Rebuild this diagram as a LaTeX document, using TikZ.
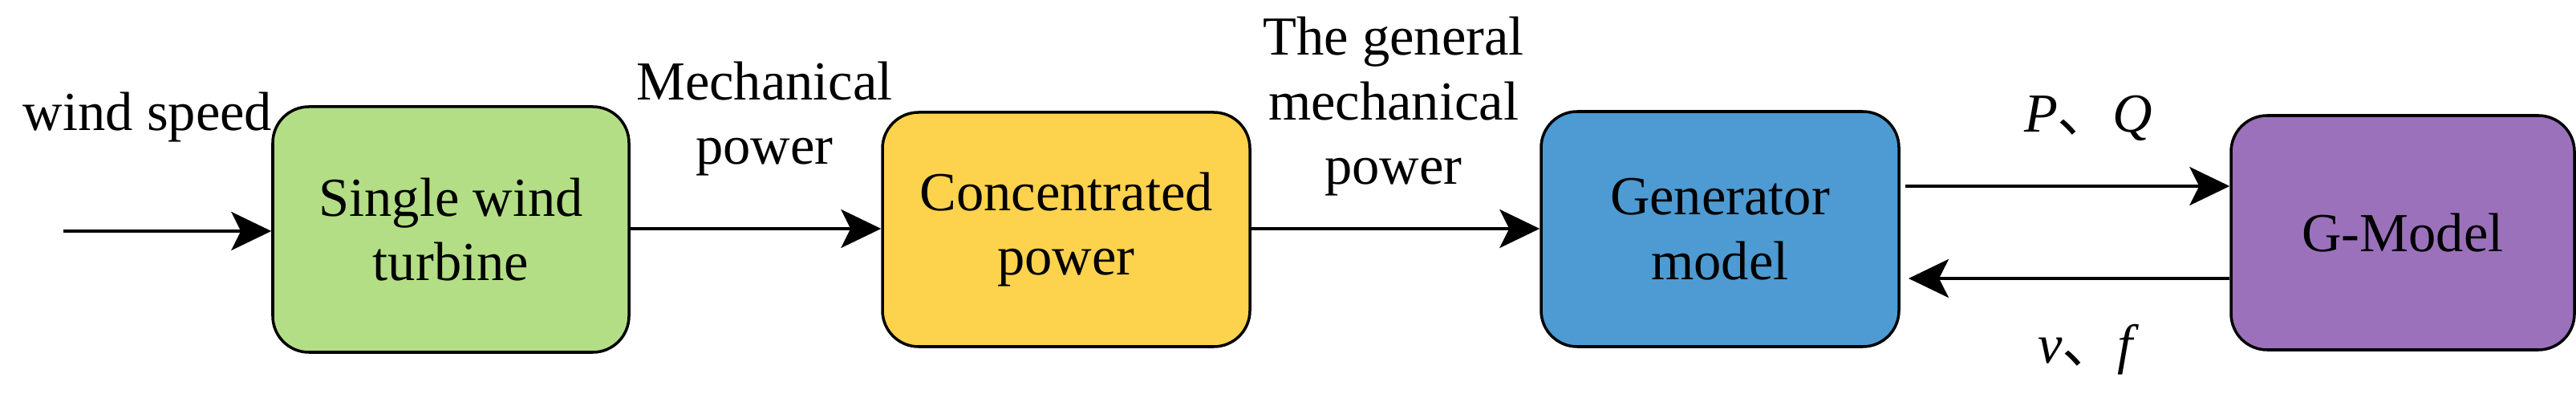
\documentclass[tikz,border=0pt]{standalone}
\usepackage{fontspec}
\setmainfont{Liberation Serif}
\newfontfamily\cjk{Noto Sans CJK SC}
\usetikzlibrary{arrows.meta}
\begin{document}
\begin{tikzpicture}[
  box/.style={draw=black,line width=1pt,rounded corners=0.45cm,minimum width=#1,align=center,font=\fontsize{19.5}{23}\selectfont},
  lbl/.style={align=center,font=\fontsize{19.5}{23}\selectfont,inner sep=0pt},
  arr/.style={line width=1pt,-{Stealth[length=0.5cm,width=0.48cm,inset=0.12cm]}}]
\useasboundingbox (0,0) rectangle (32.11,4.91);
\node[box=4.44cm,minimum height=3.06cm,fill={rgb,255:red,179;green,222;blue,133}] (g) at (5.62,2.05) {Single wind\\turbine};
\node[box=4.58cm,minimum height=2.92cm,fill={rgb,255:red,253;green,210;blue,77}] (y) at (13.29,2.05) {Concentrated\\power};
\node[box=4.46cm,minimum height=2.93cm,fill={rgb,255:red,77;green,155;blue,210}] (b) at (21.44,2.055) {Generator\\model};
\node[box=4.28cm,minimum height=2.92cm,fill={rgb,255:red,155;green,113;blue,187}] (p) at (29.95,2.01) {G-Model};
\coordinate (s) at (0.79,2.03);
\draw[arr] (s) -- (g.west |- s);
\draw[arr] (g.east |- 0,2.06) -- (y.west |- 0,2.06);
\draw[arr] (y.east |- 0,2.06) -- (b.west |- 0,2.06);
\coordinate (pq) at (23.75,2.59);
\coordinate (vf) at (23.79,1.44);
\draw[arr] (pq) -- (p.west |- pq);
\draw[arr] (p.west |- vf) -- (vf);
\node[lbl,anchor=base] (ws) at (1.84,3.28) {wind speed};
\node[lbl,anchor=base] (mp) at (9.53,2.86) {Mechanical\\power};
\node[lbl,anchor=base] (gm) at (17.37,2.61) {The general\\mechanical\\power};
\node[lbl,anchor=base] (lpq) at (26.03,3.26) {\textit{P}{\cjk 、}\textit{Q}};
\node[lbl,anchor=base] (lvf) at (26.03,0.38) {\textit{v}{\cjk 、}\textit{f}};
\end{tikzpicture}
\end{document}
